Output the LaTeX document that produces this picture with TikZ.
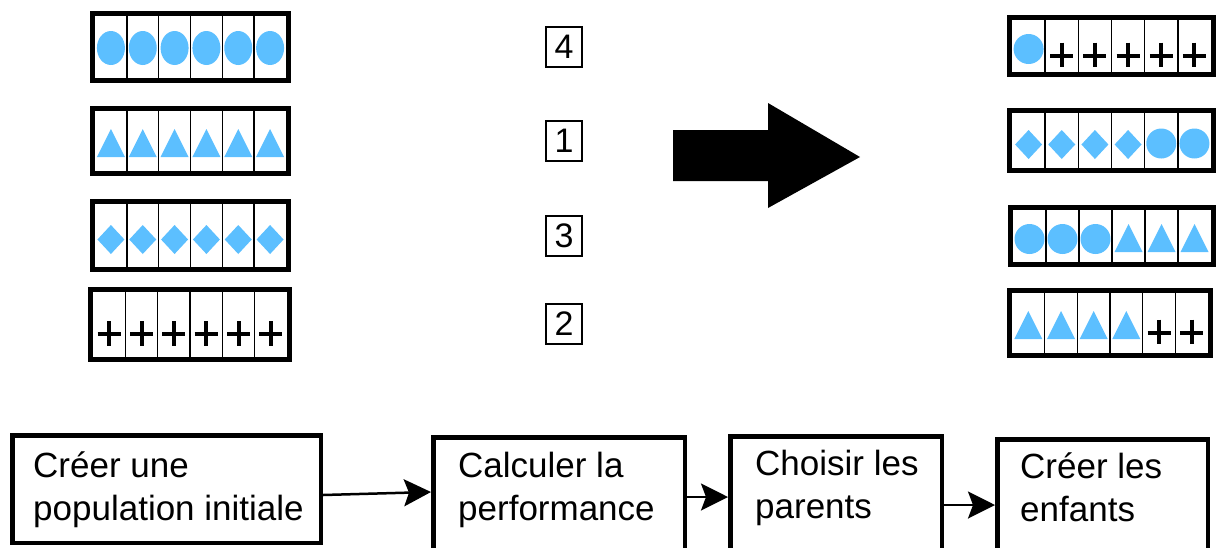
\documentclass[tikz,border=0pt]{standalone}
\usepackage{fontspec}
\setmainfont{Liberation Sans}
\usetikzlibrary{arrows.meta}
\definecolor{gene}{HTML}{5CBFFF}
\newcommand\gell{\fill[gene] (0,1) ellipse (14 and 17);}
\newcommand\gcirc{\fill[gene] (0,3) circle (15);}
\newcommand\gtri{\fill[gene] (-14,16) -- (14,16) -- (0,-12) -- cycle;}
\newcommand\gdiam{\fill[gene] (0,-10.5) -- (13.5,4) -- (0,18.5) -- (-13.5,4) -- cycle;}
\newcommand\gplus{\draw[line width=4pt] (-11.5,9.5) -- (11.5,9.5) (0,-3.5) -- (0,21);}
\newcommand\chromo[5]{%
  \draw[line width=5pt] (#1+2.5,#3+2.5) rectangle (#2-2.5,#4-2.5);
  \pgfmathsetmacro\cellw{(#2-#1-10)/6}
  \foreach \k in {1,...,5}
    \draw[line width=1.6pt] (#1+5+\k*\cellw,#3+5) -- (#1+5+\k*\cellw,#4-5);
  \foreach \s [count=\k] in {#5} {
    \pgfmathsetmacro\cellx{#1+5+(\k-0.5)*\cellw}
    \pgfmathsetmacro\celly{(#3+#4)/2}
    \begin{scope}[shift={(\cellx,\celly)}] \s \end{scope}
  }
}
\tikzset{
  numbox/.style={draw, line width=1.5pt, minimum width=36pt, minimum height=40pt,
    inner sep=0pt, font=\fontsize{34}{40}\selectfont},
  flowbox/.style={draw, line width=4.5pt, inner sep=0pt, anchor=north west},
  flowtext/.style={font=\fontsize{35}{43}\selectfont, align=left, inner sep=0pt, anchor=west},
  flowarrow/.style={line width=2.5pt, -{Stealth[length=27pt, width=27pt, inset=5pt]}}
}
\begin{document}
\begin{tikzpicture}[x=1pt, y=-1pt]
  \useasboundingbox (0,0) rectangle (1217,547);
  \chromo{90}{291}{11}{83}{\gell,\gell,\gell,\gell,\gell,\gell}
  \chromo{90}{291}{106}{176}{\gtri,\gtri,\gtri,\gtri,\gtri,\gtri}
  \chromo{90}{291}{199}{272}{\gdiam,\gdiam,\gdiam,\gdiam,\gdiam,\gdiam}
  \chromo{88}{292}{287}{362}{\gplus,\gplus,\gplus,\gplus,\gplus,\gplus}
  \chromo{1007}{1216}{15}{77}{\gcirc,\gplus,\gplus,\gplus,\gplus,\gplus}
  \chromo{1007}{1216}{108}{173}{\gdiam,\gdiam,\gdiam,\gdiam,\gcirc,\gcirc}
  \chromo{1008}{1216}{205}{267}{\gcirc,\gcirc,\gcirc,\gtri,\gtri,\gtri}
  \chromo{1007}{1213}{288}{358}{\gtri,\gtri,\gtri,\gtri,\gplus,\gplus}
  \node[numbox] (n4) at (564,47) {4};
  \node[numbox] (n1) at (564,141) {1};
  \node[numbox] (n3) at (564,236) {3};
  \node[numbox] (n2) at (564,324) {2};
  \fill (673,130) -- (768,130) -- (768,103) -- (860,157) -- (768,208)
    -- (768,181) -- (673,181) -- cycle;
  \node[flowbox, minimum width=308.5pt, minimum height=107.5pt] (pop) at (10,433) {};
  \node[flowbox, minimum width=251.5pt, minimum height=114pt] (perf) at (431,435) {};
  \node[flowbox, minimum width=211.5pt, minimum height=114pt] (par) at (728,434) {};
  \node[flowbox, minimum width=210.5pt, minimum height=114pt] (enf) at (995,437) {};
  \node[flowtext] (popt) at (33,490) {Créer une\\population initiale};
  \node[flowtext] (perft) at (458,490) {Calculer la\\performance};
  \node[flowtext] (part) at (755,488) {Choisir les\\parents};
  \node[flowtext] (enft) at (1020,487) {Créer les\\enfants};
  \draw[flowarrow] ([yshift=-6pt]pop.east) -- ([yshift=2.25pt]perf.west);
  \draw[flowarrow] ([yshift=-2.75pt]perf.east) -- ([yshift=-3.75pt]par.west);
  \draw[flowarrow] ([yshift=-11.75pt]par.east) -- ([yshift=-8.75pt]enf.west);
\end{tikzpicture}
\end{document}
